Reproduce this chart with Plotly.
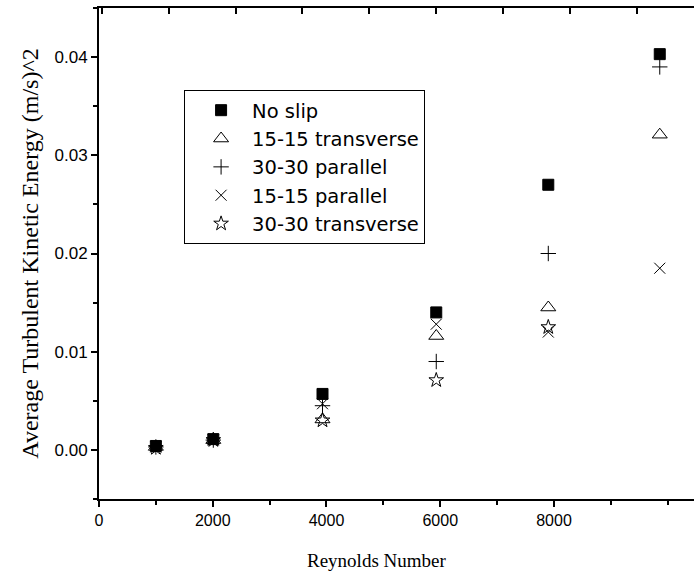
import plotly.graph_objects as go

# ---- data ----
reynolds = [1000, 2010, 3930, 5930, 7900, 9860]

no_slip = [0.0004, 0.0011, 0.0057, 0.0140, 0.0270, 0.0403]
t15_transverse = [0.0003, 0.0010, 0.0031, 0.0116, 0.0145, 0.0321]
p30_parallel = [0.0003, 0.0010, 0.0045, 0.0090, 0.0200, 0.0390]
p15_parallel = [0.0003, 0.0010, 0.0047, 0.0128, 0.0120, 0.0185]
t30_transverse = [0.0002, 0.0010, 0.0030, 0.0071, 0.0125, None]

series = [
    ("No slip", no_slip, "square", 11),
    ("15-15 transverse", t15_transverse, "triangle-up-open", 13),
    ("30-30 parallel", p30_parallel, "cross-thin", 11),
    ("15-15 parallel", p15_parallel, "x-thin", 11),
    ("30-30 transverse", t30_transverse, "star-open", 11),
]

x_ticks = [0, 2000, 4000, 6000, 8000]
y_ticks = [0.00, 0.01, 0.02, 0.03, 0.04]

fig = go.Figure()
for name, vals, sym, size in series:
    fig.add_trace(go.Scatter(
        x=reynolds, y=vals, mode="markers", name=name,
        marker=dict(symbol=sym, size=size, color="black",
                    line=dict(color="black", width=1)),
    ))

# invisible trace to activate top axis
fig.add_trace(go.Scatter(x=[], y=[], xaxis="x2", showlegend=False,
                         hoverinfo="skip"))

sans = "Liberation Sans, Arial, sans-serif"
serif = "Liberation Serif, Times New Roman, serif"

fig.update_layout(
    width=694, height=575,
    margin=dict(l=99, r=0, t=8, b=76),
    paper_bgcolor="white", plot_bgcolor="white",
    showlegend=True,
    legend=dict(
        x=0.143, y=0.833, xanchor="left", yanchor="top",
        bordercolor="black", borderwidth=1, bgcolor="white",
        font=dict(family="DejaVu Sans, sans-serif", size=19.5, color="black"),
        tracegroupgap=0, itemsizing="trace", itemwidth=52, indentation=5,
    ),
    xaxis=dict(
        range=[0, 10462], tickvals=x_ticks, ticktext=[str(v) for v in x_ticks],
        showline=True, linewidth=2, linecolor="black", mirror=False,
        ticks="outside", ticklen=6, tickwidth=2, tickcolor="black",
        minor=dict(dtick=1000, tick0=0, ticks="outside", ticklen=4, tickwidth=2, tickcolor="black"),
        showgrid=False, zeroline=False,
        tickfont=dict(family=sans, size=16, color="black"),
    ),
    xaxis2=dict(
        overlaying="x", side="top", anchor="y", range=[0, 10462],
        tickmode="linear", tick0=1224, dtick=1177,
        showline=True, linewidth=2, linecolor="black",
        ticks="inside", ticklen=6, tickwidth=2, tickcolor="black",
        showticklabels=False, showgrid=False, zeroline=False,
    ),
    yaxis=dict(
        range=[-0.005, 0.045], tickvals=y_ticks, ticktext=[f"{v:.2f}" for v in y_ticks],
        showline=True, linewidth=2, linecolor="black",
        ticks="outside", ticklen=6, tickwidth=2, tickcolor="black",
        minor=dict(dtick=0.005, tick0=0, ticks="outside", ticklen=4, tickwidth=2, tickcolor="black"),
        showgrid=False, zeroline=False,
        tickfont=dict(family=sans, size=17, color="black"),
        title=dict(text="Average Turbulent Kinetic Energy (m/s)^2",
                   font=dict(family=serif, size=24, color="black"),
                   standoff=9),
    ),
    annotations=[dict(
        text="Reynolds Number", xref="paper", yref="paper",
        x=0.467, y=-0.126, xanchor="center", yanchor="middle",
        showarrow=False, font=dict(family=serif, size=19, color="black"),
    )],
)

fig.write_html("out.html")
